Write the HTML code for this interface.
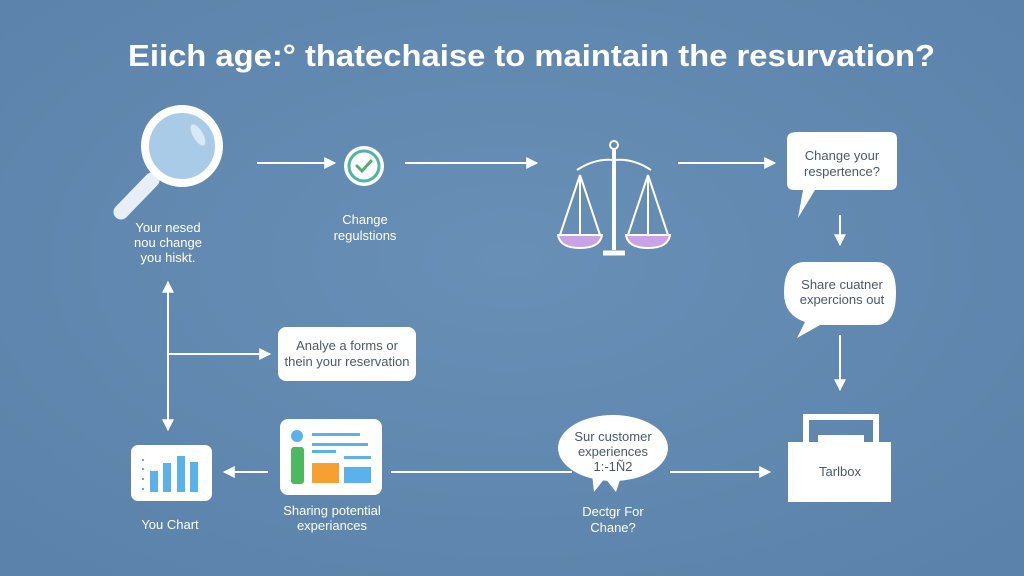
<!DOCTYPE html>
<html><head><meta charset="utf-8"><style>
html,body{margin:0;padding:0;background:#5f89b1;}
svg{display:block}
text{font-family:"Liberation Sans",sans-serif;}
</style></head><body>
<svg width="1024" height="576" viewBox="0 0 1024 576" xmlns="http://www.w3.org/2000/svg">
<defs>
<radialGradient id="bg" cx="50%" cy="45%" r="70%"><stop offset="0" stop-color="#6890b7"/><stop offset="1" stop-color="#5a82aa"/></radialGradient>
<marker id="ah" viewBox="0 0 10 10" refX="9" refY="5" markerWidth="6" markerHeight="6" orient="auto-start-reverse"><path d="M0,0 L10,5 L0,10 z" fill="#fff"/></marker>
</defs>
<rect width="1024" height="576" fill="url(#bg)"/>
<text x="128" y="66" textLength="807" lengthAdjust="spacingAndGlyphs" font-size="31" fill="#fff" font-weight="bold">Eiich age:° thatechaise to maintain the resurvation?</text>

<g stroke="#fff" stroke-width="2" fill="none">
<line x1="257" y1="163" x2="335" y2="163" marker-end="url(#ah)"/>
<line x1="405" y1="163" x2="537" y2="163" marker-end="url(#ah)"/>
<line x1="678" y1="163" x2="775" y2="163" marker-end="url(#ah)"/>
<line x1="840" y1="215" x2="840" y2="245" marker-end="url(#ah)"/>
<line x1="840" y1="335" x2="840" y2="390" marker-end="url(#ah)"/>
<line x1="168" y1="282" x2="168" y2="430" marker-start="url(#ah)" marker-end="url(#ah)"/>
<line x1="168" y1="354" x2="270" y2="354" marker-end="url(#ah)"/>
<line x1="268" y1="472" x2="224" y2="472" marker-end="url(#ah)"/>
<line x1="391" y1="472" x2="572" y2="472"/>
<line x1="670" y1="472" x2="770" y2="472" marker-end="url(#ah)"/>
</g>

<!-- magnifier -->
<line x1="152" y1="180" x2="121" y2="212" stroke="#e8eef5" stroke-width="15" stroke-linecap="round"/>
<circle cx="182" cy="146" r="37" fill="#a9cbe8" stroke="#fff" stroke-width="8"/>
<ellipse cx="198" cy="135" rx="5" ry="12" fill="#d8e8f5" transform="rotate(-30 198 135)"/>
<g font-size="13" fill="#fff" text-anchor="middle">
<text x="168" y="232">Your nesed</text><text x="168" y="247">nou change</text><text x="168" y="262">you hiskt.</text>
</g>

<!-- check -->
<circle cx="364" cy="166" r="20" fill="#fff"/>
<circle cx="364" cy="166" r="15" fill="none" stroke="#4fb3a8" stroke-width="3"/>
<path d="M357,166 L362,171 L371,161" stroke="#4fb070" stroke-width="3" fill="none" stroke-linecap="round"/>
<g font-size="13" fill="#fff" text-anchor="middle"><text x="365" y="224">Change</text><text x="365" y="240">regulstions</text></g>

<!-- scales -->
<g stroke="#fff" stroke-width="2" fill="none">
<circle cx="614" cy="145" r="4"/>
<line x1="614" y1="149" x2="614" y2="250" stroke-width="4"/>
<path d="M577,170 Q595,158 614,160 Q633,158 651,170"/>
<path d="M580,175 L560,235 M580,175 L600,235 M580,175 L580,235"/>
<path d="M648,175 L628,235 M648,175 L668,235 M648,175 L648,235"/>
<path d="M603,253 L625,253" stroke-width="5"/>
</g>
<path d="M558,235 L602,235 Q600,248 580,248 Q560,248 558,235z" fill="#c9a3e6" stroke="#fff" stroke-width="2"/>
<path d="M626,235 L670,235 Q668,248 648,248 Q628,248 626,235z" fill="#c9a3e6" stroke="#fff" stroke-width="2"/>

<!-- bubble 1 -->
<path d="M797,132 H890 Q897,132 897,139 V183 Q897,190 890,190 H815 L798,218 L803,190 H794 Q787,190 787,183 V139 Q787,132 797,132z" fill="#fff"/>
<g font-size="13" fill="#4a5a6a" text-anchor="middle"><text x="842" y="160">Change your</text><text x="842" y="176">respertence?</text></g>

<!-- bubble 2 -->
<path d="M805,262 H876 Q896,262 896,293 Q896,325 876,325 H820 L797,338 L805,322 Q784,315 784,293 Q784,262 805,262z" fill="#fff"/>
<g font-size="13" fill="#4a5a6a" text-anchor="middle"><text x="842" y="289">Share cuatner</text><text x="842" y="304">expercions out</text></g>

<!-- toolbox -->
<rect x="806" y="417" width="70" height="30" fill="none" stroke="#fff" stroke-width="6"/>
<rect x="818" y="435" width="46" height="8" fill="#fff"/>
<rect x="788" y="442" width="103" height="60" fill="#fff"/>
<text x="840" y="476" font-size="13" fill="#4a5a6a" text-anchor="middle">Tarlbox</text>

<!-- bubble 3 -->
<ellipse cx="613" cy="448" rx="55" ry="33" fill="#fff"/>
<path d="M592,474 L594,492 L605,478 L616,492 L622,474z" fill="#fff"/>
<g font-size="13" fill="#4a5a6a" text-anchor="middle"><text x="613" y="441">Sur customer</text><text x="613" y="456">experiences</text><text x="613" y="471">1:-1Ñ2</text></g>
<g font-size="13" fill="#fff" text-anchor="middle"><text x="613" y="516">Dectgr For</text><text x="613" y="532">Chane?</text></g>

<!-- analyze box -->
<rect x="278" y="327" width="138" height="54" rx="8" fill="#fff"/>
<g font-size="13" fill="#4a5a6a" text-anchor="middle"><text x="347" y="350">Analye a forms or</text><text x="347" y="366">thein your reservation</text></g>

<!-- card -->
<rect x="280" y="419" width="102" height="76" rx="8" fill="#fff"/>
<circle cx="297" cy="436" r="6" fill="#5bb2ea"/>
<rect x="291" y="447" width="13" height="37" rx="3" fill="#4cb860"/>
<rect x="312" y="433" width="48" height="3" fill="#5bb2ea"/>
<rect x="312" y="443" width="56" height="3" fill="#5bb2ea"/>
<rect x="312" y="450" width="24" height="3" fill="#5bb2ea"/>
<rect x="344" y="456" width="27" height="3" fill="#5bb2ea"/>
<rect x="312" y="463" width="27" height="20" fill="#f5a030"/>
<rect x="344" y="467" width="27" height="16" fill="#5bb2ea"/>
<g font-size="13" fill="#fff" text-anchor="middle"><text x="332" y="515">Sharing potential</text><text x="332" y="530">experiances</text></g>

<!-- chart card -->
<rect x="131" y="445" width="81" height="56" rx="7" fill="#fff"/>
<g fill="#5bb2ea"><rect x="150" y="471" width="8" height="21"/><rect x="163" y="463" width="8" height="29"/><rect x="177" y="456" width="8" height="36"/><rect x="190" y="462" width="8" height="30"/>
<rect x="142" y="459" width="2" height="2"/><rect x="142" y="468" width="2" height="2"/><rect x="142" y="478" width="2" height="2"/><rect x="142" y="488" width="2" height="2"/></g>
<text x="170" y="529" font-size="13" fill="#fff" text-anchor="middle">You Chart</text>
</svg>
</body></html>
